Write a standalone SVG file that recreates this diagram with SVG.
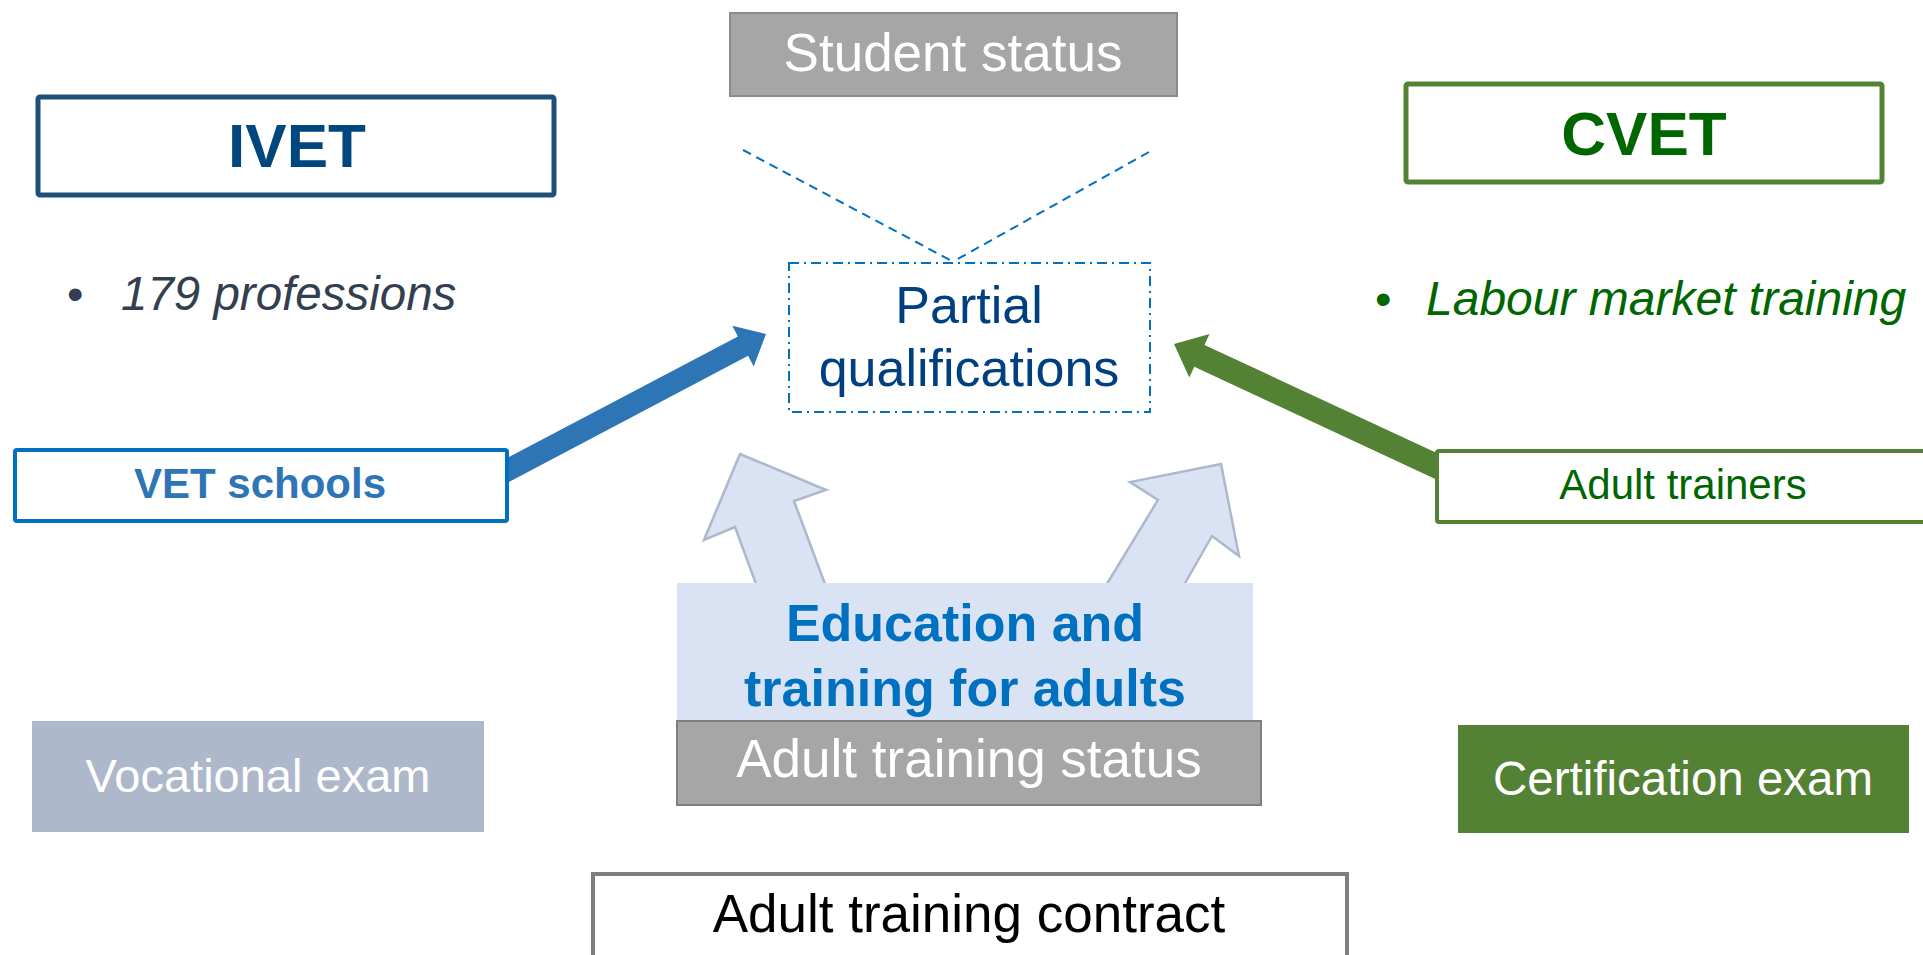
<svg xmlns="http://www.w3.org/2000/svg" width="1923" height="955" viewBox="0 0 1923 955">
<style>
text{font-family:"Liberation Sans",Arial,sans-serif;}
.c{text-anchor:middle;}
.w{fill:#ffffff;}
.dash{stroke:#0070c0;stroke-width:2;stroke-dasharray:9 6;fill:none;}
.blockarrow{fill:#dae3f3;stroke:#adb9ca;stroke-width:2.5;stroke-linejoin:miter;}
</style>
<rect width="1923" height="955" fill="#ffffff"/>
<g id="connectors">
  <line class="dash" x1="743" y1="150" x2="950" y2="260"/>
  <line class="dash" x1="1149" y1="152" x2="956" y2="260"/>
  <polygon id="arrow-vet" fill="#2e75b6" points="495.1,489.2 484.9,469.8 737.9,336.4 732.3,325.8 766,334 753.7,366.4 748.1,355.8"/>
  <polygon id="arrow-trainers" fill="#548235" points="1444.9,483.4 1455.1,461.6 1204.5,344.9 1209.5,334.1 1174,344 1189.3,377.5 1194.3,366.7"/>
  <polygon class="blockarrow" points="759,592 735,527 704,540 740,454 826,490 794,501 828,592"/>
  <polygon class="blockarrow" points="1102,592 1158,500 1130,482 1221,464 1239,556 1212,536 1180,592"/>
</g>
<g id="student-status">
  <rect x="730" y="13" width="447" height="83" fill="#a6a6a6" stroke="#8c8c8c" stroke-width="2"/>
  <text class="c w" x="953" y="71" font-size="53">Student status</text>
</g>
<g id="ivet">
  <rect x="38" y="97" width="516" height="98" rx="2" fill="#ffffff" stroke="#1f4e79" stroke-width="5"/>
  <text class="c" x="297" y="167" font-size="62" font-weight="bold" fill="#00467f">IVET</text>
</g>
<g id="ivet-bullet">
  <text x="67" y="310" font-size="47" fill="#333f50">•</text>
  <text x="121" y="310" font-size="47.5" font-style="italic" fill="#333f50">179 professions</text>
</g>
<g id="cvet">
  <rect x="1406" y="84" width="476" height="98" rx="2" fill="#ffffff" stroke="#548235" stroke-width="5"/>
  <text class="c" x="1644" y="155" font-size="62" font-weight="bold" fill="#006600">CVET</text>
</g>
<g id="cvet-bullet">
  <text x="1375" y="315" font-size="47" fill="#006600">•</text>
  <text x="1426" y="315" font-size="48" font-style="italic" fill="#006600">Labour market training</text>
</g>
<g id="partial-qualifications">
  <rect x="789" y="263" width="361" height="149" fill="#ffffff" stroke="#0070c0" stroke-width="2" stroke-dasharray="10 5 2 5"/>
  <text class="c" x="969" y="323" font-size="52" fill="#004080">Partial</text>
  <text class="c" x="969" y="386" font-size="52" fill="#004080">qualifications</text>
</g>
<g id="vet-schools">
  <rect x="15" y="450" width="492" height="71" rx="2" fill="#ffffff" stroke="#0070c0" stroke-width="4"/>
  <text class="c" x="260" y="498" font-size="42" font-weight="bold" fill="#2e75b6">VET schools</text>
</g>
<g id="adult-trainers">
  <rect x="1437" y="451" width="500" height="71" rx="2" fill="#ffffff" stroke="#548235" stroke-width="4"/>
  <text class="c" x="1683" y="499" font-size="42" fill="#006600">Adult trainers</text>
</g>
<g id="education-training-adults">
  <rect x="677" y="583" width="576" height="138" fill="#dae3f3"/>
  <text class="c" x="965" y="641" font-size="52" font-weight="bold" fill="#0070c0">Education and</text>
  <text class="c" x="965" y="706" font-size="52" font-weight="bold" fill="#0070c0">training for adults</text>
</g>
<g id="adult-training-status">
  <rect x="677" y="721" width="584" height="84" fill="#a6a6a6" stroke="#7f7f7f" stroke-width="2"/>
  <text class="c w" x="969" y="777" font-size="53">Adult training status</text>
</g>
<g id="vocational-exam">
  <rect x="32" y="721" width="452" height="111" fill="#adb9ca"/>
  <text class="c w" x="258" y="792" font-size="47">Vocational exam</text>
</g>
<g id="certification-exam">
  <rect x="1458" y="725" width="451" height="108" fill="#548235"/>
  <text class="c w" x="1683" y="795" font-size="47.5">Certification exam</text>
</g>
<g id="adult-training-contract">
  <rect x="593" y="874" width="754" height="90" fill="#ffffff" stroke="#7f7f7f" stroke-width="4"/>
  <text class="c" x="969" y="932" font-size="53" fill="#000000">Adult training contract</text>
</g>
</svg>
